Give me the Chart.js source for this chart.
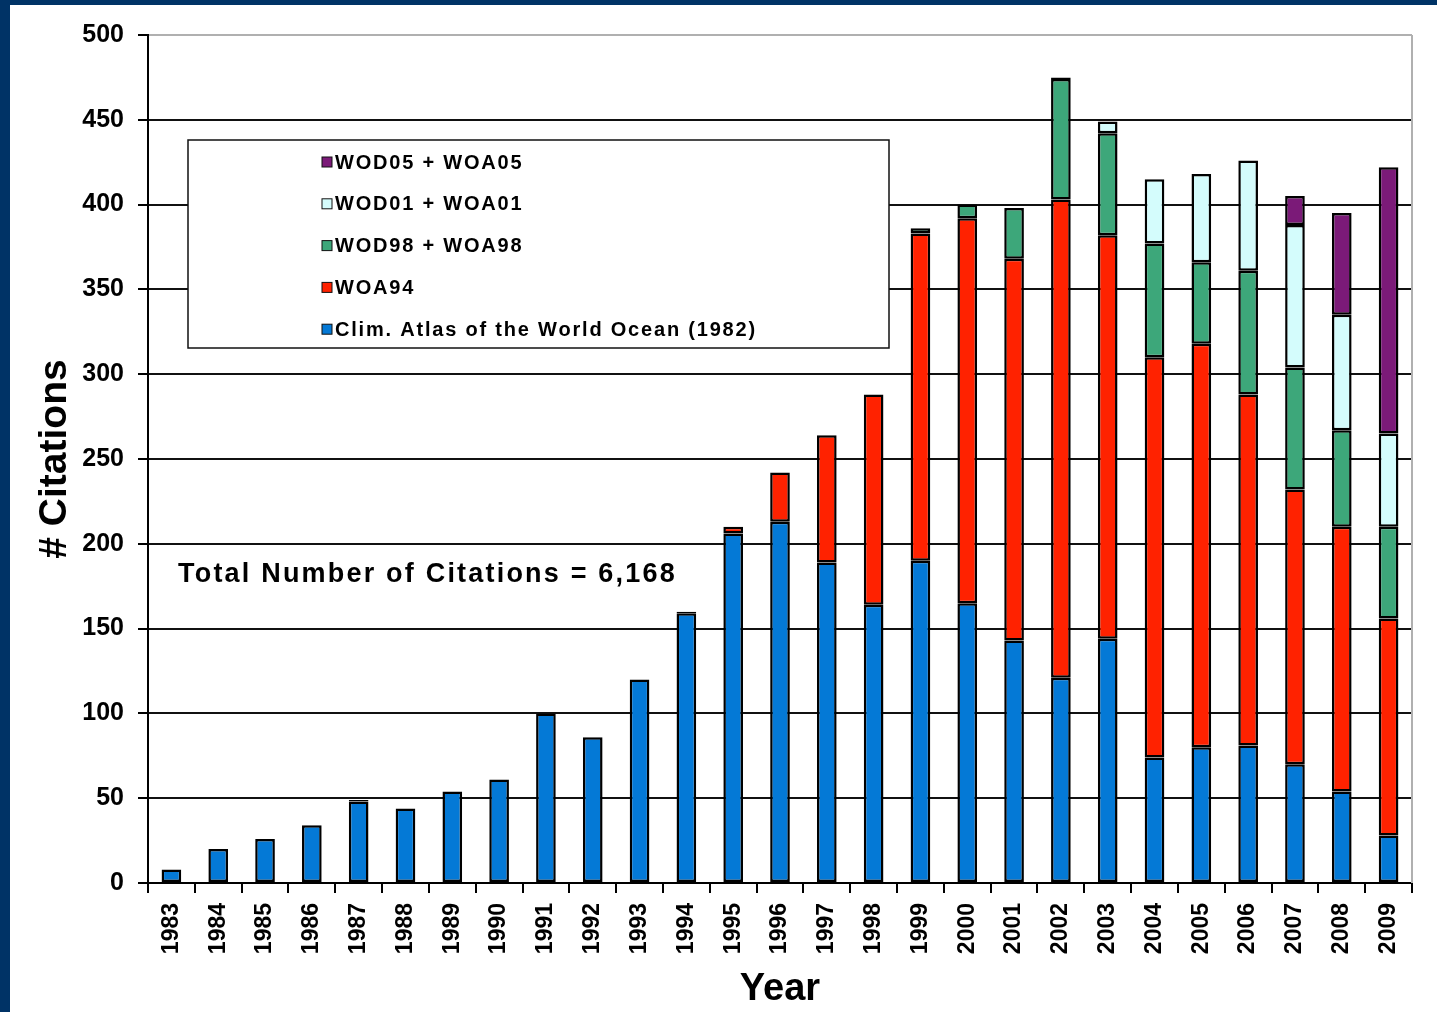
<!DOCTYPE html>
<html>
<head>
<meta charset="utf-8">
<script src="https://cdn.jsdelivr.net/npm/chart.js@4"></script>
<style>
  html, body { margin: 0; padding: 0; background: #003366; width: 1437px; height: 1012px; overflow: hidden; }
  #panel { position: absolute; left: 10px; top: 5px; width: 1427px; height: 1007px; background: #fff; }
</style>
</head>
<body>
<div id="panel"><canvas id="chart"></canvas></div>
<script>
// Citations per year, stacked by product.
const years = ["1983","1984","1985","1986","1987","1988","1989","1990","1991","1992","1993","1994",
  "1995","1996","1997","1998","1999","2000","2001","2002","2003","2004","2005","2006","2007","2008","2009"];
const climAtlas = [8,20,26,34,48,44,54,61,100,86,120,159,206,213,189,164,190,165,143,121,144,74,80,81,70,54,28];
const woa94 = [null,null,null,null,1,null,null,null,null,null,null,1,4,29,75,124,193,227,225,282,238,236,238,207,162,156,128];
const wod98 = [null,null,null,null,null,null,null,null,null,null,null,null,null,null,null,null,3,8,30,71,60,67,48,73,72,57,54];
const wod01 = [null,null,null,null,null,null,null,null,null,null,null,null,null,null,null,null,null,null,null,1,7,38,52,65,84,68,55];
const wod05 = [null,null,null,null,null,null,null,null,null,null,null,null,null,null,null,null,null,null,null,null,null,null,null,null,17,60,157];
const yTicks = [0,50,100,150,200,250,300,350,400,450,500];
const totalNote = "Total Number of Citations = 6,168";

const FONT = "'Liberation Sans', Arial, sans-serif";
const COL = { clim: "#0479d6", woa94: "#ff2200", wod98: "#3da77a", wod01: "#d4fcfc", wod05: "#7b1a78" };

function ds(label, data, color) {
  return { label, data, backgroundColor: color, borderColor: "#000", borderWidth: 2.5,
           borderSkipped: false, barPercentage: 0.42, categoryPercentage: 1 };
}

// Boxed legend inside the plot + the total note, drawn on top of the grid.
const overlay = {
  id: "overlay",
  afterDatasetsDraw(chart) {
    const { ctx, chartArea: a } = chart;
    ctx.save();
    // right plot frame in light gray
    ctx.strokeStyle = "#b0b0b0"; ctx.lineWidth = 2;
    ctx.beginPath(); ctx.moveTo(a.right, a.top); ctx.lineTo(a.right, a.bottom); ctx.stroke();

    const bx = a.left + 40, by = a.top + 105, bw = 701, bh = 208;
    ctx.fillStyle = "#fff"; ctx.fillRect(bx, by, bw, bh);
    ctx.strokeStyle = "#111"; ctx.lineWidth = 1.5; ctx.strokeRect(bx, by, bw, bh);
    const items = chart.data.datasets.slice().reverse();
    ctx.font = "bold 20px " + FONT;
    ctx.letterSpacing = "1.8px";
    ctx.textBaseline = "middle"; ctx.textAlign = "left";
    items.forEach((d, i) => {
      const cy = by + 22 + i * 41.8;
      ctx.fillStyle = d.backgroundColor; ctx.fillRect(bx + 134, cy - 5, 10, 10);
      ctx.strokeStyle = "#111"; ctx.lineWidth = 1; ctx.strokeRect(bx + 134, cy - 5, 10, 10);
      ctx.fillStyle = "#000"; ctx.fillText(d.label, bx + 147, cy + 1);
    });

    ctx.font = "bold 27px " + FONT;
    ctx.letterSpacing = "2.2px";
    ctx.fillText(totalNote, a.left + 30, a.top + 540);
    ctx.restore();
  }
};

new Chart(document.getElementById("chart"), {
  type: "bar",
  data: {
    labels: years,
    datasets: [
      ds("Clim. Atlas of the World Ocean (1982)", climAtlas, COL.clim),
      ds("WOA94", woa94, COL.woa94),
      ds("WOD98 + WOA98", wod98, COL.wod98),
      ds("WOD01 + WOA01", wod01, COL.wod01),
      ds("WOD05 + WOA05", wod05, COL.wod05),
    ],
  },
  options: {
    responsive: true,
    maintainAspectRatio: false,
    animation: false,
    layout: { padding: { top: 30, right: 25, bottom: 0, left: 0 } },
    plugins: { legend: { display: false }, tooltip: { enabled: false } },
    scales: {
      x: {
        stacked: true,
        grid: { offset: true, drawOnChartArea: false, tickLength: 10, tickColor: "#000", lineWidth: 2 },
        border: { color: "#000", width: 2 },
        ticks: { color: "#000", font: { family: FONT, size: 23, weight: "bold" },
                 minRotation: 90, maxRotation: 90, autoSkip: false, padding: 10 },
        title: { display: true, text: "Year", color: "#000",
                 font: { family: FONT, size: 38, weight: "bold" }, padding: { top: 0, bottom: 0 } },
        afterFit: (s) => { s.height = 129; },
      },
      y: {
        stacked: true,
        min: 0, max: 500,
        afterBuildTicks: (s) => { s.ticks = yTicks.map((v) => ({ value: v })); },
        grid: { color: (c) => (c.tick && c.tick.value === 500 ? "#b0b0b0" : "#111"),
                lineWidth: 2, tickLength: 10, tickColor: "#000" },
        border: { color: "#000", width: 2 },
        ticks: { color: "#000", font: { family: FONT, size: 25, weight: "bold" }, padding: 14 },
        title: { display: true, text: "# Citations", color: "#000",
                 font: { family: FONT, size: 39, weight: "bold" }, padding: { top: 22, bottom: 0 } },
        afterFit: (s) => { s.width = 138; },
      },
    },
  },
  plugins: [overlay],
});
</script>
</body>
</html>
